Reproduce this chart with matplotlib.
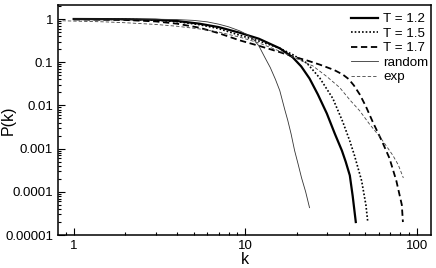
import matplotlib
matplotlib.use("Agg")
import matplotlib.pyplot as plt
from matplotlib.ticker import LogLocator, NullFormatter

plt.rcParams['font.family'] = ['Liberation Sans', 'DejaVu Sans']

# cumulative degree distributions
k_12 = [1, 2, 3, 4, 5.4, 7, 9.3, 12, 15.9, 18.9, 21.2, 23.7, 26.5, 29.9, 33.3, 36.6, 38.5, 40.7,
        42.3, 44.1]
p_12 = [1.0, 0.99, 0.96, 0.9, 0.78, 0.65, 0.48, 0.35, 0.21, 0.13, 0.08, 0.042, 0.018, 0.0065,
        0.0022, 0.0009, 0.0005, 0.00024, 0.00008, 0.00002]

k_15 = [1, 2, 3, 4, 5.4, 7, 9.3, 12, 15.9, 18.9, 22.9, 27.2, 32.4, 37.0, 40.7, 43.3, 47.7, 50.5, 51.8]
p_15 = [0.99, 0.98, 0.94, 0.87, 0.74, 0.6, 0.42, 0.31, 0.21, 0.15, 0.095, 0.043, 0.0145, 0.0042,
        0.0015, 0.0007, 0.00018, 0.00005, 0.00002]

k_17 = [1, 2, 3, 4, 5.4, 7, 9.3, 12, 15.9, 19, 22.9, 27.2, 33, 37, 40, 43, 46.5, 50.5, 55.3, 62.6,
        69.3, 76, 81.8, 83]
p_17 = [0.98, 0.95, 0.88, 0.78, 0.63, 0.47, 0.32, 0.24, 0.171, 0.135, 0.11, 0.088, 0.066, 0.052,
        0.041, 0.029, 0.018, 0.0095, 0.0042, 0.0015, 0.0006, 0.00018, 0.00005, 0.00002]

k_rnd = [1, 2, 3, 4, 5, 6, 7, 8, 9.3, 10.2, 11.1, 12, 13, 14, 15, 15.9, 17, 17.7, 18.5, 19.4,
         20.3, 21.3, 22.5, 23.7]
p_rnd = [1.0, 1.0, 0.99, 0.97, 0.93, 0.86, 0.76, 0.66, 0.53, 0.44, 0.35, 0.24, 0.13, 0.075, 0.04,
         0.022, 0.008, 0.0045, 0.0022, 0.0009, 0.00045, 0.00021, 0.0001, 0.000043]

k_exp = [0.86, 1.5, 2, 3, 4, 5.4, 7, 9.3, 12, 15.9, 20, 24.8, 30, 35.5, 41, 46.5, 53, 60.8, 67,
         72.5, 78, 83.5]
p_exp = [0.91, 0.86, 0.82, 0.75, 0.68, 0.59, 0.5, 0.38, 0.28, 0.18, 0.12, 0.082, 0.046, 0.026,
         0.013, 0.0075, 0.0037, 0.0019, 0.0011, 0.0007, 0.00042, 0.00021]

y_ticks = [1, 0.1, 0.01, 0.001, 0.0001, 0.00001]
y_labels = ["1", "0.1", "0.01", "0.001", "0.0001", "0.00001"]
x_ticks = [1, 10, 100]
x_labels = ["1", "10", "100"]

fig = plt.figure(figsize=(4.36, 2.68), dpi=100)
ax = fig.add_axes([0.133, 0.123, 0.8555, 0.858])

ax.plot(k_12, p_12, color="black", lw=1.6, label="T = 1.2")
ax.plot(k_15, p_15, color="black", lw=1.2, ls=(0, (1, 1.2)), label="T = 1.5")
ax.plot(k_17, p_17, color="black", lw=1.3, ls=(0, (3.5, 2)), label="T = 1.7")
ax.plot(k_rnd, p_rnd, color="#333333", lw=0.6, label="random")
ax.plot(k_exp, p_exp, color="#444444", lw=0.6, ls=(0, (4, 2.5)), label="exp")

ax.set_xscale("log")
ax.set_yscale("log")
ax.set_xlim(0.81, 121)
ax.set_ylim(0.00001, 2.1)

ax.set_xticks(x_ticks, labels=x_labels)
ax.set_yticks(y_ticks, labels=y_labels)
ax.xaxis.set_minor_locator(LogLocator(base=10, subs=range(2, 10)))
ax.yaxis.set_minor_locator(LogLocator(base=10, subs=range(2, 10)))
ax.xaxis.set_minor_formatter(NullFormatter())
ax.yaxis.set_minor_formatter(NullFormatter())
ax.tick_params(which="both", direction="in", top=False, right=False, labelsize=9.5, width=0.8)
ax.tick_params(which="major", length=5)
ax.tick_params(which="minor", length=2.5)
for s in ax.spines.values():
    s.set_linewidth(1.1)

ax.set_xlabel("k", fontsize=11.5)
ax.set_ylabel("P(k)", fontsize=11.5)
ax.xaxis.set_label_coords(0.5, -0.075)
ax.yaxis.set_label_coords(-0.112, 0.5)

ax.legend(loc="upper left", bbox_to_anchor=(0.765, 1.0), frameon=False, fontsize=9.6,
          handlelength=2.0, handletextpad=0.4, labelspacing=0.16, borderaxespad=0.2)

fig.savefig("out.png", dpi=100)
